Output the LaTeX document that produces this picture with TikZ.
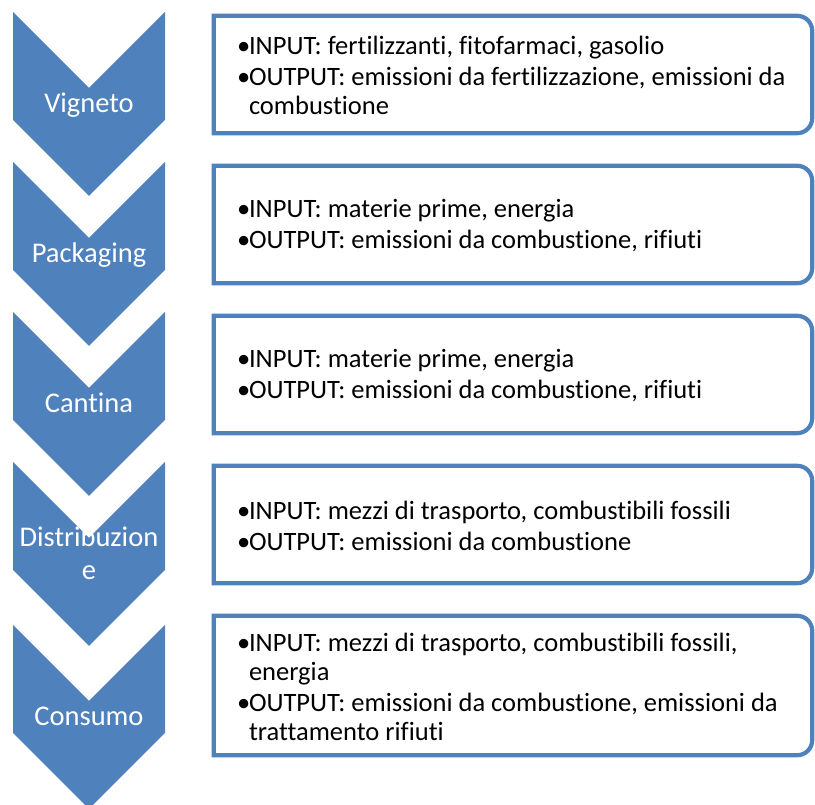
\documentclass[tikz,border=0pt]{standalone}
\usepackage{fontspec}
\setmainfont{Carlito}[Ligatures={NoCommon}]

\definecolor{blu}{HTML}{4F81BD}

% no hyphenation
\hyphenpenalty=10000
\exhyphenpenalty=10000

\tikzset{
  fase/.style={text=white, font=\fontsize{28.5}{33}\selectfont, align=center},
  casella/.style={fill=white, minimum width=598pt, minimum height=117pt, inner sep=0pt},
  testo/.style={text=black, text width=558pt, inner sep=0pt, anchor=west, xshift=23pt, yshift=-1pt,
    align=flush left, font=\fontsize{26.5}{29}\selectfont},
  bordo/.style={draw=blu, line width=4.2pt, line join=miter}
}

% chevron with its upper edge at height #1
\newcommand{\freccia}[1]{\fill[blu] (13,#1) -- (89,#1-76) -- (165,#1) -- (165,#1-108) -- (89,#1-184) -- (13,#1-108) -- cycle;}
% bullet line with hanging indent
\newcommand{\voce}[1]{\setlength{\parskip}{2pt}\hangindent=12pt\hangafter=1\noindent\makebox[12pt][l]{•}#1\par}
% frame with rounded right corners
\newcommand{\contorno}[1]{\draw[bordo] (#1.north west) -- ([xshift=-15pt]#1.north east) arc[start angle=90, end angle=0, radius=15pt] -- ([yshift=15pt]#1.south east) arc[start angle=0, end angle=-90, radius=15pt] -- (#1.south west) -- cycle;}

\begin{document}
\begin{tikzpicture}[x=1pt, y=1pt]

\useasboundingbox (0,0) rectangle (815,805);

% Chevrons
\freccia{793}
\freccia{643}
\freccia{493}
\freccia{343}
\freccia{180}

% Phase labels
\node[fase, anchor=base] (f1) at (89,692) {Vigneto};
\node[fase, anchor=base] (f2) at (89,542) {Packaging};
\node[fase, anchor=base] (f3) at (89,392) {Cantina};
\node[fase] (f4) at (89,252) {Distribuzion\\e};
\node[fase, anchor=base] (f5) at (89,79) {Consumo};

% Boxes
\node[casella] (b1) at (513,730.5) {};
\node[casella] (b2) at (513,580.5) {};
\node[casella] (b3) at (513,430.5) {};
\node[casella] (b4) at (513,280.5) {};
\node[casella, minimum height=139pt] (b5) at (513,119.5) {};

% Frames
\contorno{b1}
\contorno{b2}
\contorno{b3}
\contorno{b4}
\contorno{b5}

% Input / output lists
\node[testo] (t1) at (b1.west) {\voce{INPUT: fertilizzanti, fitofarmaci, gasolio}\voce{OUTPUT: emissioni da fertilizzazione, emissioni da combustione}};
\node[testo] (t2) at (b2.west) {\voce{INPUT: materie prime, energia}\voce{OUTPUT: emissioni da combustione, rifiuti}};
\node[testo] (t3) at (b3.west) {\voce{INPUT: materie prime, energia}\voce{OUTPUT: emissioni da combustione, rifiuti}};
\node[testo] (t4) at (b4.west) {\voce{INPUT: mezzi di trasporto, combustibili fossili}\voce{OUTPUT: emissioni da combustione}};
\node[testo] (t5) at (b5.west) {\voce{INPUT: mezzi di trasporto, combustibili fossili, energia}\voce{OUTPUT: emissioni da combustione, emissioni da trattamento rifiuti}};

\end{tikzpicture}
\end{document}
